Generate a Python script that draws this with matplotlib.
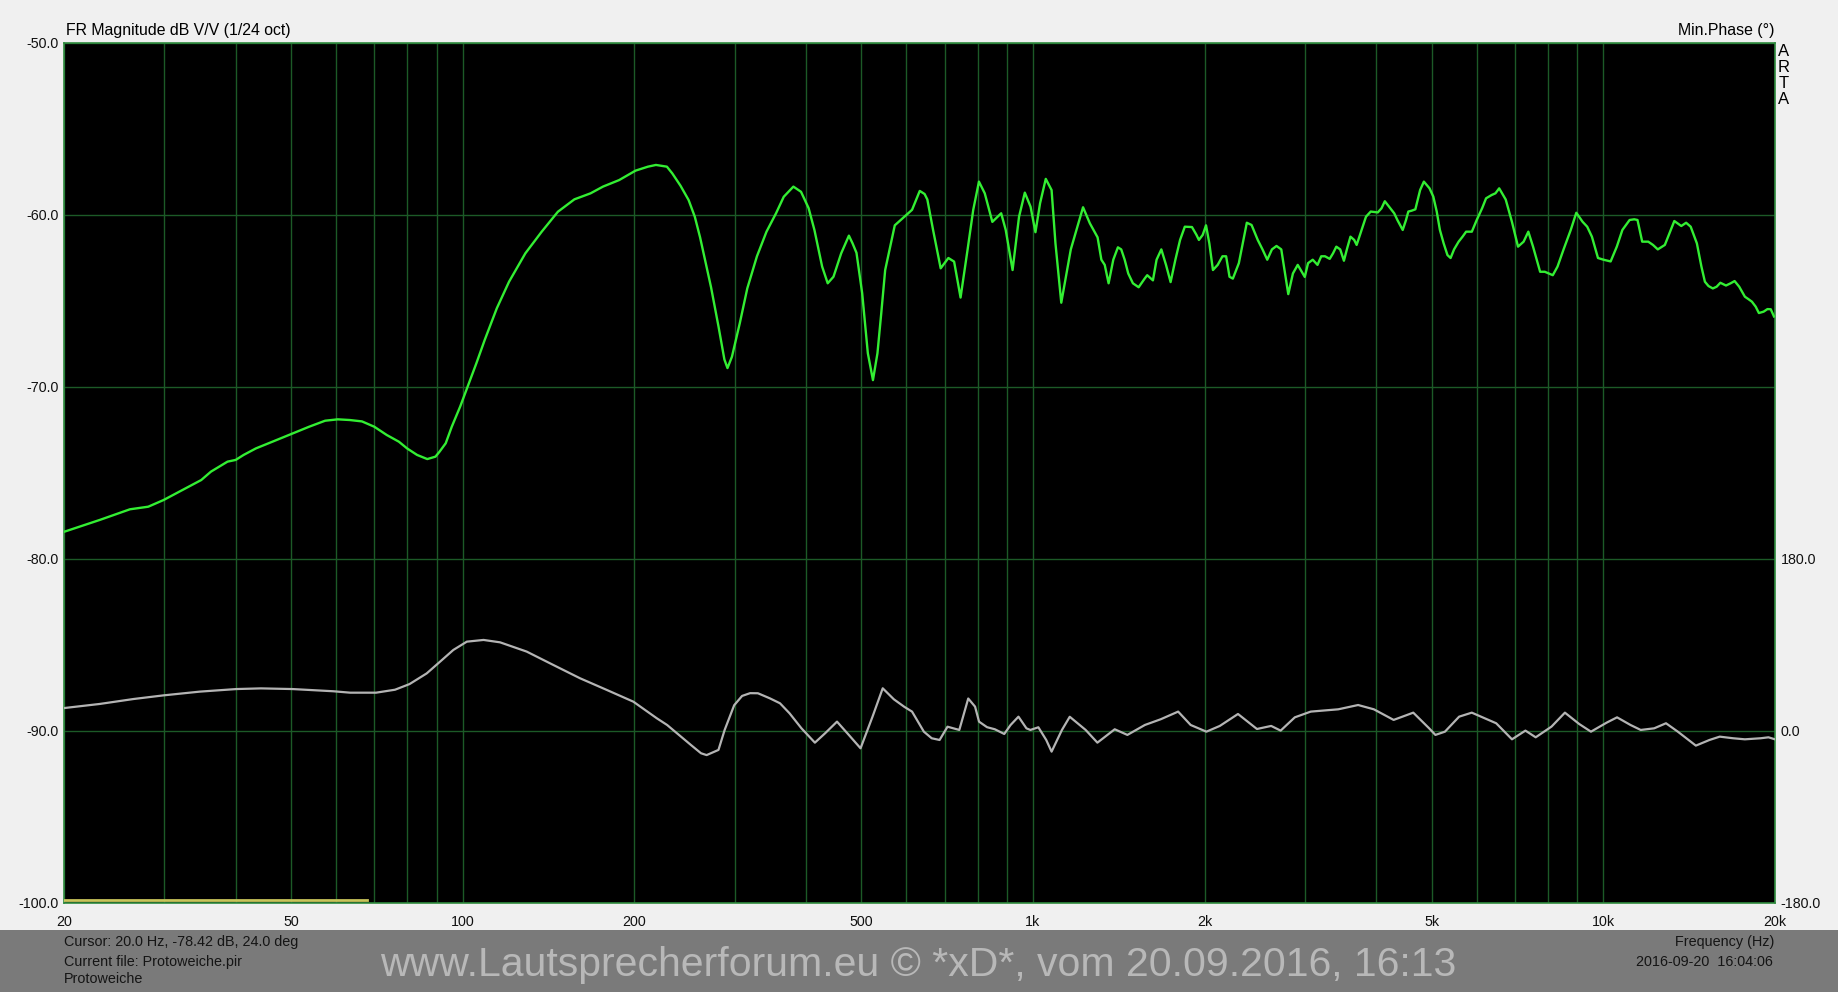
# -*- coding: utf-8 -*-
"""
ARTA style frequency response plot: magnitude (dB) + minimum phase (deg)
"""
import numpy as np
import matplotlib
matplotlib.use('Agg')
import matplotlib.pyplot as plt
from matplotlib.patches import Rectangle
from matplotlib.ticker import FixedLocator, NullFormatter

plt.rcParams['font.family'] = ['Liberation Sans', 'DejaVu Sans']

# -----------------------------------------------------------------------------
# data

mag_freq = [20, 23.1, 26.1, 28.1, 29.9, 34.8, 36.2, 38.7, 40.0, 41.3, 43.4, 46.4, 50.4,
            53.8, 57.4, 60.4, 63.4, 66.6, 70, 73.6, 77.3, 79.9, 83.2, 86.7, 89.6, 91.1,
            93.4, 95.7, 99, 102.3, 105.7, 109.3, 114.8, 120.6, 128.8, 137.6, 146.9, 157,
            167.6, 176.2, 188.1, 201, 211.3, 218.2, 228.1, 233.1, 241, 249, 255.3, 260.8,
            272.6, 281, 287.7, 291.3, 296.6, 306.1, 315.6, 328.1, 341, 354.4, 365.6, 380.1,
            392, 404.2, 413.8, 426.9, 436.6, 446.9, 461, 475.6, 482.7, 490.4, 501.8, 513.4,
            524.1, 533.7, 542, 550.6, 563.5, 572.4, 594.9, 613.7, 633.1, 645.6, 652.8,
            668.1, 688.9, 710.7, 727.3, 746.5, 767.8, 785.7, 804, 823.1, 848.7, 879.5,
            895.8, 920.9, 945.3, 967.6, 990.3, 1010, 1029, 1053, 1078, 1095, 1121, 1165,
            1192, 1224, 1258, 1298, 1318, 1336, 1357, 1383, 1409, 1428, 1448, 1469, 1497,
            1532, 1571, 1586, 1623, 1647, 1679, 1711, 1743, 1777, 1811, 1846, 1900, 1935,
            1954, 1984, 2011, 2038, 2068, 2108, 2149, 2181, 2211, 2241, 2296, 2371, 2417,
            2478, 2526, 2575, 2624, 2673, 2725, 2803, 2856, 2912, 2996, 3036, 3094, 3154,
            3202, 3251, 3313, 3358, 3403, 3457, 3509, 3555, 3603, 3658, 3694, 3785, 3836,
            3910, 4023, 4084, 4139, 4218, 4299, 4356, 4449, 4508, 4551, 4612, 4682, 4773,
            4846, 4958, 5034, 5104, 5170, 5249, 5330, 5398, 5474, 5576, 5665, 5747, 5881,
            5997, 6132, 6229, 6369, 6469, 6568, 6743, 6914, 7087, 7249, 7388, 7530, 7748,
            7896, 8155, 8312, 8518, 8768, 8967, 9195, 9370, 9550, 9787, 10010, 10300, 10560,
            10800, 11120, 11330, 11480, 11700, 11990, 12220, 12460, 12820, 13060, 13320,
            13700, 13970, 14230, 14590, 14860, 15070, 15290, 15560, 15800, 16040, 16410,
            16720, 16990, 17310, 17710, 17980, 18220, 18500, 18740, 19100, 19400, 19660,
            19920]
mag_db = [-78.42, -77.73, -77.11, -76.96, -76.57, -75.41, -74.92, -74.34, -74.24, -73.95,
          -73.57, -73.18, -72.69, -72.31, -71.96, -71.88, -71.92, -72.0, -72.31, -72.79,
          -73.18, -73.57, -73.95, -74.19, -74.05, -73.76, -73.27, -72.31, -71.14, -69.88,
          -68.62, -67.27, -65.42, -63.88, -62.23, -60.97, -59.81, -59.09, -58.74, -58.35,
          -57.97, -57.42, -57.19, -57.09, -57.19, -57.58, -58.3, -59.13, -60.1, -61.3,
          -64.2, -66.5, -68.4, -68.9, -68.24, -66.3, -64.26, -62.4, -60.97, -59.9, -58.94,
          -58.35, -58.65, -59.6, -60.87, -63.0, -63.97, -63.59, -62.23, -61.2, -61.65,
          -62.2, -64.55, -68.04, -69.6, -68.04, -65.7, -63.2, -61.65, -60.6, -60.1, -59.7,
          -58.6, -58.78, -59.1, -60.87, -63.1, -62.5, -62.71, -64.8, -62.03, -59.7, -58.06,
          -58.74, -60.4, -59.9, -60.87, -63.2, -60.1, -58.7, -59.52, -61.0, -59.32, -57.9,
          -58.55, -61.65, -65.1, -62.0, -60.87, -59.55, -60.48, -61.3, -62.6, -62.9, -63.97,
          -62.6, -61.88, -62.0, -62.6, -63.4, -63.97, -64.2, -63.68, -63.5, -63.8, -62.6,
          -62.0, -62.9, -63.9, -62.6, -61.45, -60.68, -60.7, -61.16, -61.45, -61.16, -60.6,
          -61.65, -63.2, -62.9, -62.4, -62.4, -63.59, -63.7, -62.8, -60.45, -60.58, -61.45,
          -62.0, -62.6, -62.0, -61.8, -62.0, -64.6, -63.4, -62.9, -63.6, -62.8, -62.6,
          -62.9, -62.4, -62.4, -62.55, -62.23, -61.84, -62.0, -62.66, -61.94, -61.26,
          -61.45, -61.74, -60.68, -60.1, -59.8, -59.85, -59.61, -59.2, -59.55, -59.9,
          -60.3, -60.87, -60.3, -59.8, -59.75, -59.67, -58.55, -58.06, -58.45, -58.93,
          -59.8, -60.87, -61.65, -62.33, -62.5, -62.0, -61.55, -61.26, -60.97, -60.97,
          -60.3, -59.6, -59.03, -58.84, -58.74, -58.45, -59.1, -60.39, -61.84, -61.55,
          -60.97, -61.84, -63.3, -63.3, -63.5, -63.0, -62.0, -60.87, -59.87, -60.39, -60.68,
          -61.26, -62.5, -62.6, -62.7, -61.84, -60.87, -60.29, -60.25, -60.29, -61.55,
          -61.55, -61.74, -62.0, -61.74, -61.06, -60.35, -60.64, -60.45, -60.68, -61.65,
          -63.0, -63.88, -64.13, -64.27, -64.17, -63.94, -64.1, -63.97, -63.84, -64.17,
          -64.75, -64.9, -65.04, -65.33, -65.7, -65.62, -65.47, -65.48, -65.9]

phase_freq = [20, 23.1, 26.5, 29.9, 34.6, 40.1, 44.3, 50.3, 59.3, 63.5, 70.5, 76.1, 80.7,
              86.5, 91.3, 96.3, 101.7, 108.8, 116.3, 129.5, 144.2, 160.6, 178.9, 199.2,
              219, 228.3, 251.3, 261.8, 267.8, 280.9, 288, 299.3, 309, 319.2, 329.4, 345.6,
              360.1, 374.3, 392.7, 414.6, 432, 453.3, 475.4, 498.5, 523.2, 545.2, 570.2,
              594.5, 613.7, 643.7, 664.4, 685.9, 708.2, 742.7, 770, 791.5, 804.3, 830.6,
              857.4, 890.5, 913.6, 943.1, 973.9, 989.6, 1022, 1055, 1078, 1124, 1160, 1237,
              1297, 1391, 1464, 1571, 1675, 1797, 1890, 2014, 2126, 2288, 2470, 2616, 2718,
              2878, 3069, 3430, 3716, 3960, 4289, 4643, 4950, 5077, 5276, 5587, 5880, 6489,
              6916, 7302, 7611, 8113, 8564, 9069, 9513, 10140, 10570, 11160, 11630, 12280,
              12880, 13510, 14530, 15350, 16000, 16890, 17710, 18870, 19480, 20000]
phase_deg = [24.0, 28.3, 33.5, 37.3, 41.2, 43.9, 44.6, 43.9, 41.6, 40.1, 40.1, 43.2, 49.1,
             60.3, 72.6, 84.8, 93.5, 95.3, 92.8, 83.1, 69.1, 55.2, 43, 30.7, 13.3, 6.3,
             -14.6, -23.3, -25.2, -19.8, 1.1, 27, 36.7, 39.6, 39.5, 34.2, 29, 18.5, 2.8,
             -12.2, -2.4, 9.8, -4.1, -18.1, 15, 44.7, 33.2, 25.4, 20.3, -0.7, -7.6, -9.4,
             4.5, 1.1, 34, 25.5, 9.8, 4, 1.8, -3.1, 6.3, 15, 2.8, 1.1, 3.9, -9.4, -21.6,
             1.1, 14.9, 1.1, -12.2, 1.8, -4.1, 6.3, 12.3, 20.3, 6.3, -0.7, 5.3, 17.8, 2.1,
             5.3, 0.4, 14.3, 20.3, 22.7, 27.2, 22.7, 11.6, 19.2, 2.8, -4.1, -0.7, 15, 19.2,
             8.1, -8.7, 0.4, -6.6, 4.6, 19.2, 7.4, -0.7, 8.8, 14.3, 6.3, 1.1, 2.8, 8.1,
             -0.7, -15.3, -9.4, -5.9, -7.6, -8.7, -7.6, -6.6, -8.7]

# short trace at the very bottom
low_freq = [20, 68]
low_db = [-99.8, -99.8]

x_ticks = [20, 50, 100, 200, 500, 1000, 2000, 5000, 10000, 20000]
x_labels = ['20', '50', '100', '200', '500', '1k', '2k', '5k', '10k', '20k']
x_minor = [30, 40, 60, 70, 80, 90, 300, 400, 600, 700, 800, 900,
           3000, 4000, 6000, 7000, 8000, 9000]
y_ticks = [-100, -90, -80, -70, -60, -50]
phase_ticks = [-180, 0, 180]

# -----------------------------------------------------------------------------
# figure

W, H = 1838, 992
bg = '#f0f0f0'
grid_col = '#1c5a27'
spine_col = '#2f8a3e'
fig = plt.figure(figsize=(W / 100, H / 100), dpi=100, facecolor=bg)

# grey status band at the bottom
fig.patches.append(Rectangle((0, 0), 1, 62 / H, transform=fig.transFigure,
                             facecolor='#7a7a7a', edgecolor='none', zorder=0))

left, right, top, bottom = 64, 1775, 43, 903
ax = fig.add_axes([left / W, 1 - bottom / H, (right - left) / W, (bottom - top) / H])
ax.set_facecolor('black')
ax.set_xscale('log')
ax.set_xlim(20, 20000)
ax.set_ylim(-100, -50)

ax.xaxis.set_major_locator(FixedLocator(x_ticks))
ax.xaxis.set_minor_locator(FixedLocator(x_minor))
ax.xaxis.set_minor_formatter(NullFormatter())
ax.set_xticklabels(x_labels)
ax.set_yticks(y_ticks)
ax.set_yticklabels(['%.1f' % v for v in y_ticks])
ax.tick_params(axis='both', which='both', length=0, labelsize=10.3, colors='#111111')
ax.tick_params(axis='x', pad=9)
ax.tick_params(axis='y', pad=4)
ax.grid(which='both', color=grid_col, linewidth=1.0)
ax.set_axisbelow(True)
for s in ax.spines.values():
    s.set_color(spine_col)
    s.set_linewidth(1.2)

ax.plot(low_freq, low_db, color='#c8c45a', linewidth=2.0, zorder=3)
ax.plot(mag_freq, mag_db, color='#33ee33', linewidth=1.7, zorder=4,
        solid_joinstyle='round')

# phase on the right axis: -180 at -100 dB, 0 at -90 dB
ax2 = ax.twinx()
ax2.set_ylim(-180, 720)
ax2.set_yticks(phase_ticks)
ax2.set_yticklabels(['%.1f' % v for v in phase_ticks])
ax2.tick_params(axis='y', length=0, labelsize=10.3, pad=4, colors='#111111')
for s in ax2.spines.values():
    s.set_visible(False)
ax2.plot(phase_freq, phase_deg, color='#b4b4b4', linewidth=1.6, zorder=4,
         solid_joinstyle='round')


# -----------------------------------------------------------------------------
# texts

def px(x, y):
    return x / W, 1 - y / H


fig.text(*px(66, 30), 'FR Magnitude dB V/V (1/24 oct)', fontsize=11.4, ha='left', va='center')
fig.text(*px(1774, 30), 'Min.Phase (°)', fontsize=11.4, ha='right', va='center')
for i, ch in enumerate('ARTA'):
    fig.text(*px(1784, 51 + i * 16), ch, fontsize=12, ha='center', va='center')

txt = dict(fontsize=10.4, va='center', color='#151515')
fig.text(*px(64, 942), 'Cursor: 20.0 Hz, -78.42 dB, 24.0 deg', **txt)
fig.text(*px(64, 962), 'Current file: Protoweiche.pir', **txt)
fig.text(*px(64, 979), 'Protoweiche', **txt)
fig.text(*px(1774, 942), 'Frequency (Hz)', ha='right', **txt)
fig.text(*px(1773, 962), '2016-09-20  16:04:06', ha='right', **txt)
fig.text(*px(918, 965), 'www.Lautsprecherforum.eu © *xD*, vom 20.09.2016, 16:13',
         fontsize=29.5, ha='center', va='center', color='#b8b8b8')

fig.savefig('out.png', dpi=100, facecolor=bg)
